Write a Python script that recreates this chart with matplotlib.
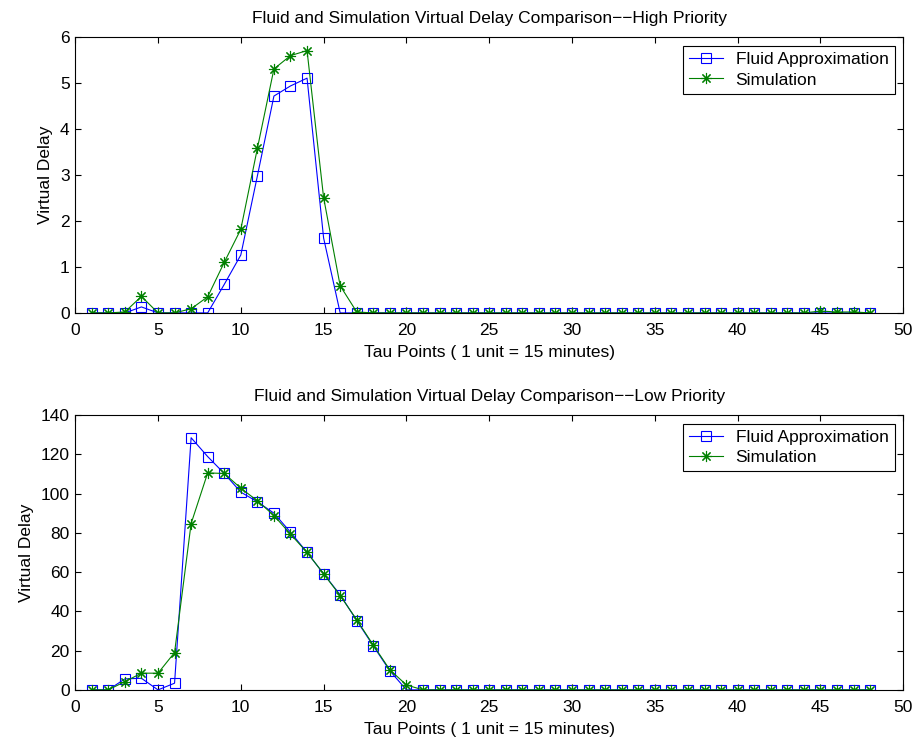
import numpy as np
import matplotlib
matplotlib.use('Agg')
import matplotlib.pyplot as plt

plt.rcParams['font.family'] = ['Liberation Sans', 'DejaVu Sans']
plt.rcParams['font.size'] = 12.5

# Tau points 1..48
tau = np.arange(1, 49)

# High priority virtual delay
high_fluid = [0, 0, 0, 0.13, 0, 0, 0, 0, 0.62, 1.26, 2.98, 4.72, 4.94, 5.11, 1.63, 0] + [0] * 32
high_sim = [0, 0, 0.02, 0.36, 0, 0, 0.09, 0.35, 1.10, 1.82, 3.58, 5.31, 5.60, 5.71, 2.51, 0.59, 0.02] \
    + [0] * 27 + [0.04, 0.02, 0.02, 0]

# Low priority virtual delay
low_fluid = [0, 0, 5.6, 5.9, 0, 3.4, 128.4, 118.8, 110.2, 100.7, 95.8, 90.0, 80.3, 70.0,
             59.1, 48.4, 35.3, 22.4, 9.7, 0] + [0] * 28
low_sim = [0, 0, 4.2, 8.5, 8.5, 19.0, 84.7, 110.5, 110.2, 102.7, 96.3, 88.8, 79.3, 70.0,
           59.1, 48.0, 35.7, 22.8, 10.2, 2.5] + [0] * 28

panels = [
    ('Fluid and Simulation Virtual Delay Comparison\u2212\u2212High Priority', high_fluid, high_sim,
     [0, 6], np.arange(0, 7, 1), [0.082, 0.580, 0.903, 0.370]),
    ('Fluid and Simulation Virtual Delay Comparison\u2212\u2212Low Priority', low_fluid, low_sim,
     [0, 140], np.arange(0, 141, 20), [0.082, 0.074, 0.903, 0.369]),
]

fig = plt.figure(figsize=(9.17, 7.45), dpi=100)
asterisk = (8, 2, 0)

for title, fluid, sim, ylim, yticks, rect in panels:
    ax = fig.add_axes(rect)
    ax.plot(tau, fluid, color='blue', lw=0.8, marker='s', ms=7, mfc='none', mew=0.8,
            label='Fluid Approximation')
    ax.plot(tau, sim, color=(0, 0.5, 0), lw=0.8, marker=asterisk, ms=8, mew=0.8,
            label='Simulation')
    ax.set_xlim(0, 50)
    ax.set_ylim(*ylim)
    ax.set_xticks(np.arange(0, 51, 5))
    ax.set_yticks(yticks)
    ax.tick_params(direction='in', top=True, right=True, length=4, labelsize=12.5)
    ax.tick_params(axis='x', pad=7.5)
    ax.tick_params(axis='y', pad=4)
    ax.set_title(title, fontsize=12.5, pad=10)
    ax.set_xlabel('Tau Points ( 1 unit = 15 minutes)', labelpad=5)
    ax.set_ylabel('Virtual Delay', labelpad=5)
    leg = ax.legend(loc='upper right', fancybox=False, edgecolor='black', framealpha=1,
                    borderaxespad=0.5, handlelength=2.0, handletextpad=0.7,
                    labelspacing=0.3, borderpad=0.35)
    leg.get_frame().set_linewidth(0.8)

fig.savefig('out.png', dpi=100)
